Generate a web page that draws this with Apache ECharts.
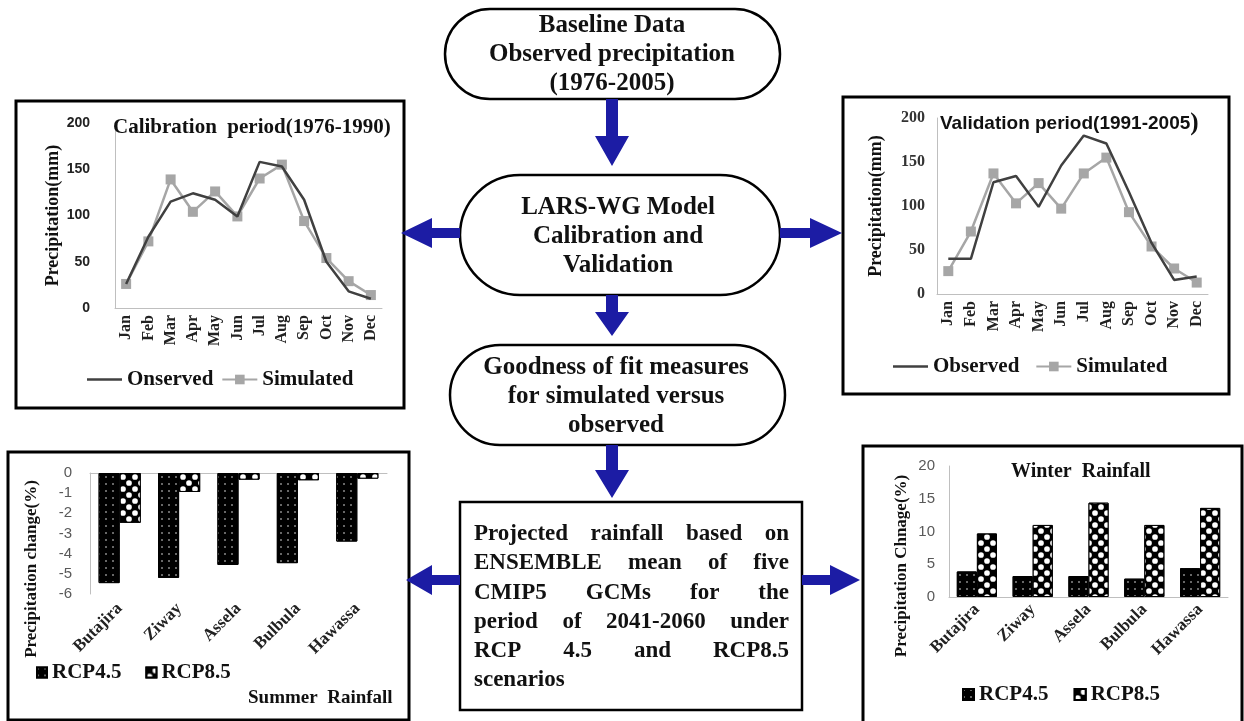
<!DOCTYPE html>
<html><head><meta charset="utf-8">
<script src="https://cdn.jsdelivr.net/npm/echarts@6/dist/echarts.min.js"></script>
<style>html,body{margin:0;padding:0;background:#fff;overflow:hidden}#c{width:1244px;height:721px}</style>
</head><body><div id="c"></div>
<script>
// ---------- data ----------
const months = ['Jan','Feb','Mar','Apr','May','Jun','Jul','Aug','Sep','Oct','Nov','Dec'];
const calObserved  = [26, 77, 115, 124, 117, 99, 158, 153, 117, 50, 18, 10];
const calSimulated = [26, 72, 139, 104, 126, 99, 140, 155, 94, 54, 29, 14];
const valObserved  = [40, 40, 127, 134, 99, 146, 180, 171, 116, 58, 16, 20];
const valSimulated = [26, 71, 137, 103, 126, 97, 137, 155, 93, 54, 29, 13];
const stations = ['Butajira','Ziway','Assela','Bulbula','Hawassa'];
const summerRcp45 = [-5.46, -5.2, -4.56, -4.47, -3.4];
const summerRcp85 = [-2.47, -0.94, -0.33, -0.36, -0.28];
const winterRcp45 = [3.9, 3.2, 3.2, 2.8, 4.4];
const winterRcp85 = [9.7, 11.0, 14.4, 11.0, 13.6];
const precipTicks = [0, 50, 100, 150, 200];
const summerTicks = [-6, -5, -4, -3, -2, -1, 0];
const winterTicks = [0, 5, 10, 15, 20];

// ---------- styles ----------
const SERIF = "'Liberation Serif','Times New Roman',serif";
const SANS = "'Liberation Sans',Arial,sans-serif";
const BLUE = '#1c1ca4';
const OBS = '#404040', SIM = '#a6a6a6';
const AXIS = '#bfbfbf';
const LINE_ICON = 'path://M0 0H40V3H0Z';

const ctx = document.createElement('canvas').getContext('2d');

function stadium(x, y, w, h) {
  return {type:'rect', shape:{x, y, width:w, height:h, r:h/2},
    style:{fill:'#fff', stroke:'#000', lineWidth:2.5}};
}
function box(x, y, w, h) {
  return {type:'rect', shape:{x, y, width:w, height:h},
    style:{fill:'none', stroke:'#000', lineWidth:3}, z:-1};
}
function textBlock(str, x, y, size, lh) {
  return {type:'text', z:10, style:{text:str, x, y, align:'center', verticalAlign:'middle',
    font:'bold ' + size + 'px ' + SERIF, lineHeight:lh, fill:'#111'}};
}
function downArrow(cx, y0, y1, hs) {
  return {type:'polygon', z:5, shape:{points:[[cx-6,y0],[cx+6,y0],[cx+6,hs],[cx+17,hs],[cx,y1],[cx-17,hs],[cx-6,hs]]},
    style:{fill:BLUE}};
}
function hArrow(cy, x0, x1, hs) {
  return {type:'polygon', z:5, shape:{points:[[x0,cy-5],[hs,cy-5],[hs,cy-15],[x1,cy],[hs,cy+15],[hs,cy+5],[x0,cy+5]]},
    style:{fill:BLUE}};
}
function justify(lines, x0, x1, y0, lh, font) {
  ctx.font = font;
  const els = [];
  lines.forEach((ln, i) => {
    const words = ln.split(' ');
    const y = y0 + i * lh;
    if (i === lines.length - 1) {
      els.push({type:'text', z:10, style:{text:ln, x:x0, y, font, fill:'#111', verticalAlign:'middle'}});
      return;
    }
    const ws = words.map(w => ctx.measureText(w).width);
    const gap = (x1 - x0 - ws.reduce((a, b) => a + b, 0)) / (words.length - 1);
    let x = x0;
    words.forEach((w, j) => {
      els.push({type:'text', z:10, style:{text:w, x, y, font, fill:'#111', verticalAlign:'middle'}});
      x += ws[j] + gap;
    });
  });
  return els;
}
function vText(str, x, y, size) {
  return {type:'text', z:10, x, y, rotation:Math.PI/2,
    style:{text:str, x:0, y:0, align:'center', verticalAlign:'middle', font:'bold ' + size + 'px ' + SERIF, fill:'#111'}};
}

const decal45 = {symbol:'circle', symbolSize:1, color:'#8a8a8a', dashArrayX:[2,5], dashArrayY:[2,5]};
const decal85 = {symbol:'circle', symbolSize:0.95, color:'#fff', dashArrayX:[[6,6],[0,6,6,0]], dashArrayY:[6,0]};

const graphic = [
  box(16, 101, 388, 307),
  box(843, 97, 386, 297),
  box(8, 452, 401, 268),
  box(863, 446, 379, 280),
  stadium(445, 9, 335, 90),
  textBlock('Baseline Data\nObserved precipitation\n(1976-2005)', 612, 55, 25, 29),
  downArrow(612, 99, 166, 136),
  stadium(460, 175, 320, 120),
  textBlock('LARS-WG Model\nCalibration and\nValidation', 618, 237, 25, 29),
  hArrow(233, 460, 401, 432),
  hArrow(233, 780, 842, 810),
  downArrow(612, 295, 336, 312),
  stadium(450, 345, 335, 100),
  textBlock('Goodness of fit measures\nfor simulated versus\nobserved', 616, 397, 25, 29),
  downArrow(612, 445, 498, 470),
  {type:'rect', shape:{x:460, y:502, width:342, height:208}, style:{fill:'#fff', stroke:'#000', lineWidth:2.5}},
  hArrow(580, 460, 406, 432),
  hArrow(580, 802, 860, 830),
  ...justify(['Projected rainfall based on','ENSEMBLE mean of five','CMIP5 GCMs for the',
              'period of 2041-2060 under','RCP 4.5 and RCP8.5','scenarios'],
             474, 789, 534, 29.3, 'bold 23px ' + SERIF),
  vText('Precipitation change(%)', 32, 569, 17),
  vText('Precipitation Chnage(%)', 902, 566, 17)
];

const catAxisBase = {type:'category', boundaryGap:true, axisTick:{show:false}, splitLine:{show:false}};
const chart = echarts.init(document.getElementById('c'), null, {renderer:'canvas'});
chart.setOption({
  backgroundColor:'#fff',
  animation:false,
  graphic,
  title:[
    {text:'Calibration  period(1976-1990)', left:113, top:117, padding:0,
     textStyle:{fontFamily:SERIF, fontWeight:'bold', fontSize:21, color:'#111'}},
    {text:'{a|Validation period(1991-2005}{b|)}', left:940, top:111, padding:0,
     textStyle:{rich:{a:{fontFamily:SANS, fontWeight:'bold', fontSize:19, color:'#111'},
                      b:{fontFamily:SERIF, fontWeight:'bold', fontSize:25, color:'#111'}}}},
    {text:'Summer  Rainfall', left:248, top:689, padding:0,
     textStyle:{fontFamily:SERIF, fontWeight:'bold', fontSize:19, color:'#111'}},
    {text:'Winter  Rainfall', left:1011, top:462, padding:0,
     textStyle:{fontFamily:SERIF, fontWeight:'bold', fontSize:20, color:'#111'}}
  ],
  legend:[
    {left:87, top:369, padding:0, itemGap:8, itemWidth:35, itemHeight:12,
     data:[{name:'Onserved', icon:LINE_ICON},'Simulated'],
     textStyle:{fontFamily:SERIF, fontWeight:'bold', fontSize:21, color:'#111'}},
    {left:893, top:356, padding:0, itemGap:16, itemWidth:35, itemHeight:12,
     data:[{name:'Observed', icon:LINE_ICON},'Simulated '],
     textStyle:{fontFamily:SERIF, fontWeight:'bold', fontSize:21, color:'#111'}},
    {left:36, top:662, padding:0, itemGap:24, itemWidth:10, itemHeight:10, icon:'rect',
     data:['RCP4.5','RCP8.5'],
     textStyle:{fontFamily:SERIF, fontWeight:'bold', fontSize:21, color:'#111'}},
    {left:962, top:684, padding:0, itemGap:20, itemWidth:11, itemHeight:11, icon:'rect',
     data:['RCP4.5 ','RCP8.5 '],
     textStyle:{fontFamily:SERIF, fontWeight:'bold', fontSize:21, color:'#111'}}
  ],
  grid:[
    {left:115, top:123, width:267, height:185},
    {left:937, top:118, width:271, height:176},
    {left:90, top:473, width:297, height:121},
    {left:949, top:466, width:279, height:131}
  ],
  xAxis:[
    Object.assign({}, catAxisBase, {gridIndex:0, data:months,
      axisLine:{lineStyle:{color:AXIS}},
      axisLabel:{rotate:90, margin:7, interval:0, fontFamily:SERIF, fontWeight:'bold', fontSize:16, color:'#222'}}),
    Object.assign({}, catAxisBase, {gridIndex:1, data:months,
      axisLine:{lineStyle:{color:AXIS}},
      axisLabel:{rotate:90, margin:7, interval:0, fontFamily:SERIF, fontWeight:'bold', fontSize:16, color:'#222'}}),
    Object.assign({}, catAxisBase, {gridIndex:2, data:stations, position:'bottom',
      axisLine:{show:false},
      axisLabel:{rotate:45, margin:12, interval:0, fontFamily:SERIF, fontWeight:'bold', fontSize:17, color:'#222'}}),
    Object.assign({}, catAxisBase, {gridIndex:2, data:stations, position:'top',
      axisLine:{show:true, onZero:false, lineStyle:{color:AXIS}}, axisLabel:{show:false}}),
    Object.assign({}, catAxisBase, {gridIndex:3, data:stations,
      axisLine:{lineStyle:{color:AXIS}},
      axisLabel:{rotate:45, margin:10, interval:0, fontFamily:SERIF, fontWeight:'bold', fontSize:17, color:'#222'}})
  ],
  yAxis:[
    {type:'value', gridIndex:0, min:precipTicks[0], max:precipTicks[precipTicks.length-1], interval:precipTicks[1]-precipTicks[0],
     axisLine:{show:true, lineStyle:{color:AXIS}}, axisTick:{show:false}, splitLine:{show:false},
     name:'Precipitation(mm)', nameLocation:'middle', nameGap:50,
     nameTextStyle:{fontFamily:SERIF, fontWeight:'bold', fontSize:18, color:'#111'},
     axisLabel:{margin:25, fontFamily:SANS, fontWeight:'bold', fontSize:14, color:'#222'}},
    {type:'value', gridIndex:1, min:precipTicks[0], max:precipTicks[precipTicks.length-1], interval:precipTicks[1]-precipTicks[0],
     axisLine:{show:true, lineStyle:{color:AXIS}}, axisTick:{show:false}, splitLine:{show:false},
     name:'Precipitation(mm)', nameLocation:'middle', nameGap:52,
     nameTextStyle:{fontFamily:SERIF, fontWeight:'bold', fontSize:18, color:'#111'},
     axisLabel:{margin:12, fontFamily:SERIF, fontWeight:'bold', fontSize:16, color:'#333'}},
    {type:'value', gridIndex:2, min:summerTicks[0], max:summerTicks[summerTicks.length-1], interval:1,
     axisLine:{show:true, lineStyle:{color:AXIS}}, axisTick:{show:false}, splitLine:{show:false},
     axisLabel:{margin:18, fontFamily:SANS, fontSize:15, color:'#595959'}},
    {type:'value', gridIndex:3, min:winterTicks[0], max:winterTicks[winterTicks.length-1], interval:winterTicks[1]-winterTicks[0],
     axisLine:{show:true, lineStyle:{color:AXIS}}, axisTick:{show:false}, splitLine:{show:false},
     axisLabel:{margin:14, fontFamily:SANS, fontSize:15, color:'#595959'}}
  ],
  series:[
    {name:'Onserved', type:'line', xAxisIndex:0, yAxisIndex:0, data:calObserved, symbol:'none',
     lineStyle:{color:OBS, width:2.5}, itemStyle:{color:OBS}, z:3},
    {name:'Simulated', type:'line', xAxisIndex:0, yAxisIndex:0, data:calSimulated, symbol:'rect', symbolSize:10,
     lineStyle:{color:SIM, width:2.5}, itemStyle:{color:SIM}, z:2},
    {name:'Observed', type:'line', xAxisIndex:1, yAxisIndex:1, data:valObserved, symbol:'none',
     lineStyle:{color:OBS, width:2.5}, itemStyle:{color:OBS}, z:3},
    {name:'Simulated ', type:'line', xAxisIndex:1, yAxisIndex:1, data:valSimulated, symbol:'rect', symbolSize:10,
     lineStyle:{color:SIM, width:2.5}, itemStyle:{color:SIM}, z:2},
    {name:'RCP4.5', type:'bar', xAxisIndex:2, yAxisIndex:2, data:summerRcp45, barGap:'0%', barCategoryGap:'29%',
     itemStyle:{color:'#000', borderColor:'#000', borderWidth:1, decal:decal45}},
    {name:'RCP8.5', type:'bar', xAxisIndex:2, yAxisIndex:2, data:summerRcp85, barGap:'0%', barCategoryGap:'29%',
     itemStyle:{color:'#000', borderColor:'#000', borderWidth:1, decal:decal85}},
    {name:'RCP4.5 ', type:'bar', xAxisIndex:4, yAxisIndex:3, data:winterRcp45, barGap:'0%', barCategoryGap:'28%',
     itemStyle:{color:'#000', borderColor:'#000', borderWidth:1, decal:decal45}},
    {name:'RCP8.5 ', type:'bar', xAxisIndex:4, yAxisIndex:3, data:winterRcp85, barGap:'0%', barCategoryGap:'28%',
     itemStyle:{color:'#000', borderColor:'#000', borderWidth:1, decal:decal85}}
  ]
});
</script>
</body></html>
